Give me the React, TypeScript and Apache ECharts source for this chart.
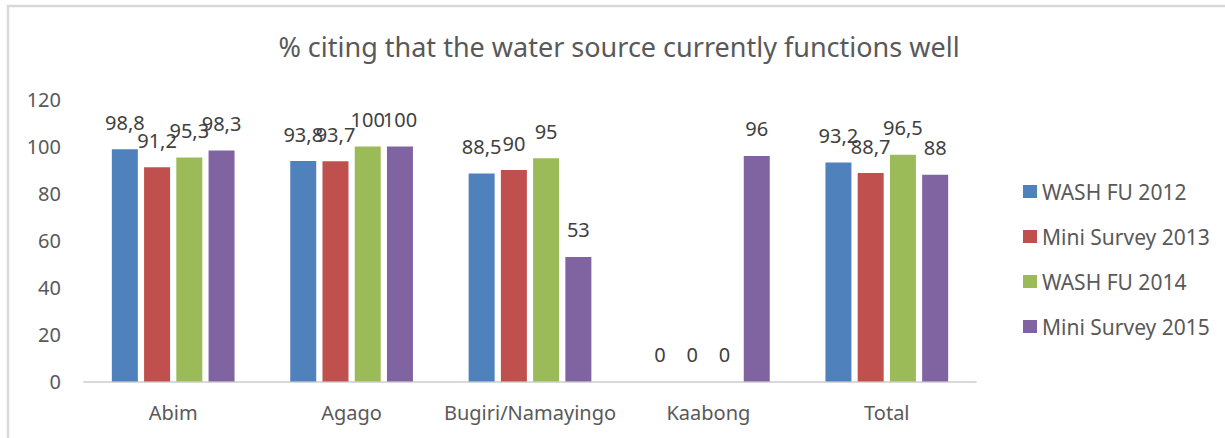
import React, { useEffect, useRef } from "react";
import * as echarts from "echarts";

const categories = ["Abim", "Agago", "Bugiri/Namayingo", "Kaabong", "Total"];
const seriesNames = ["WASH FU 2012", "Mini Survey 2013", "WASH FU 2014", "Mini Survey 2015"];
const wash2012 = [98.8, 93.8, 88.5, 0, 93.2];
const mini2013 = [91.2, 93.7, 90, 0, 88.7];
const wash2014 = [95.3, 100, 95, 0, 96.5];
const mini2015 = [98.3, 100, 53, 96, 88];
const colors = ["#4F81BD", "#C0504D", "#9BBB59", "#8064A2"];
const yTicks = { min: 0, max: 120, interval: 20 };
const title = "% citing that the water source currently functions well";

const FONT = '"Noto Sans", "Open Sans", sans-serif';

export default function App() {
  const ref = useRef<HTMLDivElement>(null);
  useEffect(() => {
    document.body.style.margin = "0";
    if (!ref.current) return;
    const chart = echarts.init(ref.current, null, { renderer: "svg" });
    const all = [wash2012, mini2013, wash2014, mini2015];
    chart.setOption({
      animation: false,
      backgroundColor: "#ffffff",
      textStyle: { fontFamily: FONT },
      grid: { left: 84, right: 249, top: 99.5, bottom: 56.5, containLabel: false },
      graphic: [
        {
          type: "rect",
          shape: { x: 8, y: 6, width: 1400, height: 600 },
          style: { fill: "none", stroke: "#d9d9d9", lineWidth: 2.5 },
          silent: true,
        },
        {
          type: "text",
          x: 619,
          y: 46,
          style: {
            text: title,
            fontFamily: FONT,
            fontSize: 27,
            fill: "#595959",
            align: "center",
            verticalAlign: "middle",
          },
        },
      ],
      legend: {
        orient: "vertical",
        left: 1018,
        top: 175,
        itemWidth: 14,
        itemHeight: 13,
        itemGap: 22,
        icon: "rect",
        textStyle: { fontSize: 21, color: "#595959", fontFamily: FONT, lineHeight: 23 },
        data: seriesNames,
      },
      xAxis: {
        type: "category",
        data: categories,
        axisLine: { lineStyle: { color: "#d9d9d9", width: 2 } },
        axisTick: { show: false },
        axisLabel: { fontSize: 20, color: "#595959", margin: 21, interval: 0, fontFamily: FONT },
      },
      yAxis: {
        type: "value",
        min: yTicks.min,
        max: yTicks.max,
        interval: yTicks.interval,
        axisLine: { show: false },
        axisTick: { show: false },
        splitLine: { show: false },
        axisLabel: { fontSize: 20, color: "#595959", margin: 23, fontFamily: FONT },
      },
      series: all.map((d, i) => ({
        name: seriesNames[i],
        type: "bar",
        data: d,
        barWidth: 26,
        barGap: "24%",
        itemStyle: { color: colors[i] },
        labelLayout: { hideOverlap: false },
        label: {
          show: true,
          position: "top",
          distance: 17,
          fontSize: 20,
          color: "#404040",
          fontFamily: FONT,
          formatter: (p: any) => String(p.value).replace(".", ","),
        },
      })),
    });
    return () => chart.dispose();
  }, []);
  return <div ref={ref} style={{ width: 1225, height: 438 }} />;
}
